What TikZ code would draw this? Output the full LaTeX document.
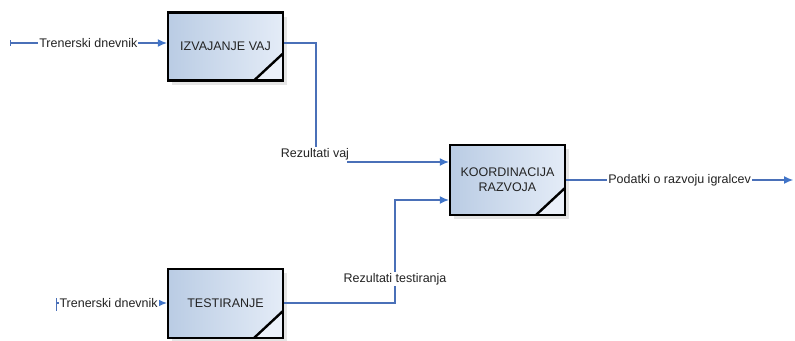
\documentclass[tikz,border=0pt]{standalone}
\usepackage{fontspec}
\setmainfont{Liberation Sans}
\usetikzlibrary{arrows.meta,shadows}
\definecolor{lineblue}{RGB}{74,112,184}
\definecolor{tipblue}{RGB}{64,116,200}
\definecolor{boxA}{RGB}{186,204,228}
\definecolor{boxB}{RGB}{228,236,247}
\definecolor{cornerfill}{RGB}{236,241,250}
\definecolor{txt}{RGB}{35,35,35}
\tikzset{
  procbox/.style={draw=black, line width=2.4pt, minimum width=115pt, minimum height=68pt,
    inner sep=0pt, align=center, font=\fontsize{12.5}{15}\selectfont, text=txt,
    left color=boxA, right color=boxB,
    drop shadow={shadow xshift=4pt, shadow yshift=-4pt, fill=black!25, opacity=0.4},
    path picture={
      \fill[cornerfill] (path picture bounding box.south east) -- ++(-29,0) -- ++(29,-27) -- cycle;
      \draw[line width=2.4pt] (path picture bounding box.south east) ++(-29,0) -- ++(29,-27);
    }},
  conn/.style={draw=lineblue, line width=1.1pt},
  arr/.style={conn, -{Latex[length=9pt,width=8pt,fill=tipblue,color=tipblue]}},
  lbl/.style={fill=white, inner sep=1pt, text=txt, font=\fontsize{12.5}{15}\selectfont},
  tick/.style={draw=lineblue, line width=0.9pt}
}
\begin{document}
\begin{tikzpicture}[x=1pt,y=-1pt]
\useasboundingbox (0,0) rectangle (795,340);
% boxes
\node[procbox] (b1) at (225.5,46.5) {IZVAJANJE VAJ};
\node[procbox, minimum height=70pt] (b2) at (507.5,180) {KOORDINACIJA\\RAZVOJA};
\node[procbox, minimum height=69pt] (b3) at (225.5,303.5) {TESTIRANJE};
% coordinates
\coordinate (s1) at (10,43);
\coordinate (c1) at (316,43);
\coordinate (c3) at (347,162);
\coordinate (s3) at (57,303);
\coordinate (c4) at (395,303);
\coordinate (c5) at (395,200);
\coordinate (e1) at (793,180);
% input to IZVAJANJE VAJ
\draw[arr] (s1) -- node[lbl, pos=0.5] {Trenerski dnevnik} (s1 -| b1.west);
\draw[tick] (10,40) -- (10,46);
% Rezultati vaj
\node[lbl, anchor=center] (rv) at (315,154) {Rezultati vaj};
\draw[conn] (s1 -| b1.east) -- (c1) -- (c1 |- rv.north);
\draw[arr] (c3) -- (c3 -| b2.west);
% Rezultati testiranja
\draw[arr] (s3 -| b3.east) -- (c4) -- (c5) -- (c5 -| b2.west);
\node[lbl] (rt) at (395,279) {Rezultati testiranja};
% input to TESTIRANJE
\draw[arr] (s3) -- node[lbl, pos=0.47] {Trenerski dnevnik} (s3 -| b3.west);
\draw[tick] (56,298) -- (56,311);
% output
\draw[arr] (e1 -| b2.east) -- node[lbl, pos=0.5] {Podatki o razvoju igralcev} (e1);
\end{tikzpicture}
\end{document}
